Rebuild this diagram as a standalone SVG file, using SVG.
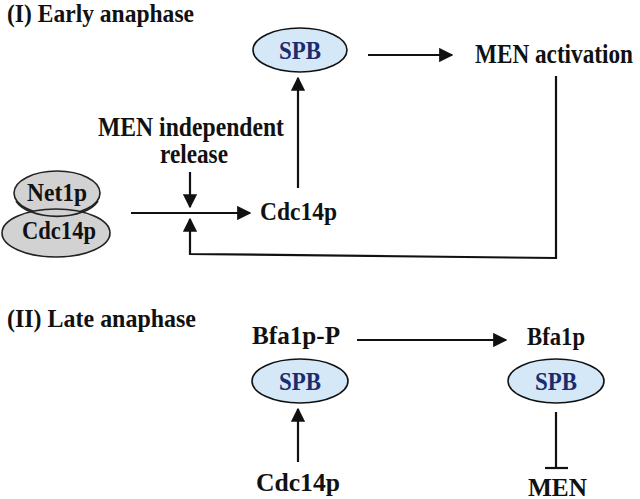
<svg xmlns="http://www.w3.org/2000/svg" width="640" height="499" viewBox="0 0 640 499">
<style>
text{font-family:"Liberation Serif","Times New Roman",serif;font-weight:bold;fill:#111;}
.t{font-size:28px;}
.h{font-size:25px;}
.spb{fill:#d4e8f8;stroke:#111;stroke-width:1.6;}
.spbt{fill:#1c2a6e;font-size:26px;}
.grey{fill:#d2d2d2;stroke:#222;stroke-width:1.6;}
.ln{fill:none;stroke:#111;stroke-width:2.2;}
</style>
<defs>
<marker id="ah" viewBox="0 0 10 10" refX="9" refY="5" markerWidth="6.5" markerHeight="6.5" orient="auto" markerUnits="strokeWidth">
<path d="M0,0 L10,5 L0,10 z" fill="#111"/>
</marker>
</defs>
<rect width="640" height="499" fill="#fff"/>
<text class="h" x="7" y="22" textLength="187" lengthAdjust="spacingAndGlyphs">(I) Early anaphase</text>
<text class="h" x="7" y="327" textLength="189" lengthAdjust="spacingAndGlyphs">(II) Late anaphase</text>
<g id="spb1">
<ellipse class="spb" cx="300" cy="50" rx="47" ry="22"/>
<text class="spbt" x="300" y="59" text-anchor="middle" textLength="42" lengthAdjust="spacingAndGlyphs">SPB</text>
</g>
<g id="men-activation">
<text class="t" x="475" y="63" textLength="158" lengthAdjust="spacingAndGlyphs">MEN activation</text>
</g>
<g id="men-independent">
<text class="t" x="191" y="136" text-anchor="middle" textLength="186" lengthAdjust="spacingAndGlyphs">MEN independent</text>
<text class="t" x="194" y="163" text-anchor="middle" textLength="68" lengthAdjust="spacingAndGlyphs">release</text>
</g>
<g id="complex">
<ellipse class="grey" cx="57" cy="193" rx="43" ry="22"/>
<ellipse class="grey" cx="56" cy="233" rx="54" ry="24"/>
<path d="M16,201 A43,22 0 0 0 98,201" fill="none" stroke="#222" stroke-width="1.6"/>
<text class="h" x="57" y="201" text-anchor="middle" textLength="60" lengthAdjust="spacingAndGlyphs">Net1p</text>
<text class="h" x="59" y="239" text-anchor="middle" textLength="74" lengthAdjust="spacingAndGlyphs">Cdc14p</text>
</g>
<g id="cdc14p-1">
<text class="h" x="260" y="220" textLength="77" lengthAdjust="spacingAndGlyphs">Cdc14p</text>
</g>
<g id="bfa1p-p">
<text class="h" x="252" y="344" textLength="88" lengthAdjust="spacingAndGlyphs">Bfa1p-P</text>
</g>
<g id="spb2">
<ellipse class="spb" cx="300" cy="381" rx="48" ry="22"/>
<text class="spbt" x="300" y="390" text-anchor="middle" textLength="42" lengthAdjust="spacingAndGlyphs">SPB</text>
</g>
<g id="bfa1p">
<text class="h" x="527" y="345" textLength="58" lengthAdjust="spacingAndGlyphs">Bfa1p</text>
</g>
<g id="spb3">
<ellipse class="spb" cx="556" cy="381" rx="48" ry="22"/>
<text class="spbt" x="556" y="390" text-anchor="middle" textLength="42" lengthAdjust="spacingAndGlyphs">SPB</text>
</g>
<g id="cdc14p-2">
<text class="h" x="256" y="491" textLength="84" lengthAdjust="spacingAndGlyphs">Cdc14p</text>
</g>
<g id="men">
<text class="h" x="528" y="496" textLength="59" lengthAdjust="spacingAndGlyphs">MEN</text>
</g>
<g id="connectors">
<line class="ln" x1="368" y1="55" x2="452" y2="55" marker-end="url(#ah)"/>
<line class="ln" x1="298" y1="188" x2="298" y2="78" marker-end="url(#ah)"/>
<line class="ln" x1="131" y1="213" x2="250" y2="213" marker-end="url(#ah)"/>
<line class="ln" x1="190" y1="172" x2="190" y2="207" marker-end="url(#ah)"/>
<polyline class="ln" points="556,76 556,258 190,254 190,219" marker-end="url(#ah)"/>
<line class="ln" x1="357" y1="340" x2="506" y2="340" marker-end="url(#ah)"/>
<line class="ln" x1="298" y1="462" x2="298" y2="409" marker-end="url(#ah)"/>
<line class="ln" x1="556" y1="412" x2="556" y2="468"/>
<line class="ln" x1="545" y1="468" x2="568" y2="468" stroke-width="2.6"/>
</g>
</svg>
